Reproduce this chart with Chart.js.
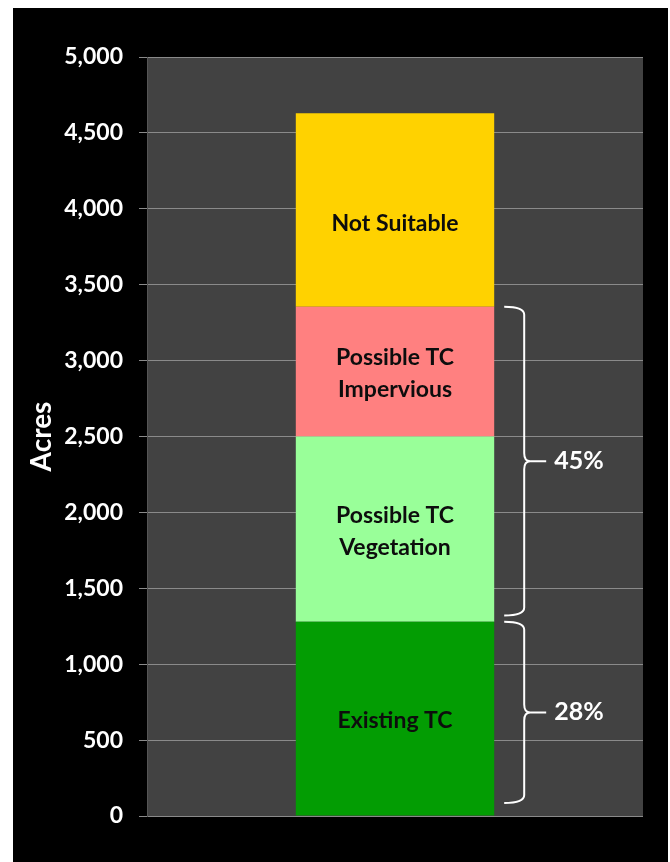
<!DOCTYPE html>
<html>
<head>
<meta charset="utf-8">
<script src="https://cdn.jsdelivr.net/npm/chart.js@4"></script>
<style>
    html, body { margin: 0; padding: 0; background: #ffffff; }
    #wrap { position: absolute; left: 13px; top: 8px; width: 655px; height: 854px; background: #000000; }
</style>
</head>
<body>
<div id="wrap"><canvas id="acresChart"></canvas></div>
<script>
const categories = [''];
const segmentNames = ['Existing TC', 'Possible TC\nVegetation', 'Possible TC\nImpervious', 'Not Suitable'];
const existingTC = [1280];
const possibleVegetation = [1220];
const possibleImpervious = [855];
const notSuitable = [1275];
const segmentColors = ['#039d03', '#99ff99', '#ff8080', '#ffd200'];
const yTicks = [0, 500, 1000, 1500, 2000, 2500, 3000, 3500, 4000, 4500, 5000];

// braces on the right side: value ranges and their labels
const braces = [
    { from: 85, to: existingTC[0], label: '28%' },
    { from: existingTC[0] + 40, to: existingTC[0] + possibleVegetation[0] + possibleImpervious[0], label: '45%' }
];

const plotBackground = {
    id: 'plotBackground',
    beforeDraw(chart) {
        const { ctx, chartArea } = chart;
        ctx.save();
        ctx.fillStyle = '#424242';
        ctx.fillRect(chartArea.left, chartArea.top, chartArea.right - chartArea.left, chartArea.bottom - chartArea.top);
        ctx.restore();
    }
};

const segmentLabels = {
    id: 'segmentLabels',
    afterDatasetsDraw(chart) {
        const ctx = chart.ctx;
        ctx.save();
        ctx.fillStyle = '#0d0d0d';
        ctx.font = 'bold 23px Lato';
        ctx.textAlign = 'center';
        ctx.textBaseline = 'middle';
        chart.data.datasets.forEach((ds, i) => {
            const bar = chart.getDatasetMeta(i).data[0];
            const lines = segmentNames[i].split('\n');
            // top label sits a bit below the segment middle in the original
            const shift = i === chart.data.datasets.length - 1 ? 14 : 2;
            const mid = (bar.y + bar.base) / 2 + shift;
            lines.forEach((line, j) => {
                ctx.fillText(line, bar.x, mid + (j - (lines.length - 1) / 2) * 32);
            });
        });
        ctx.restore();
    }
};

const braceMarks = {
    id: 'braceMarks',
    afterDatasetsDraw(chart) {
        const ctx = chart.ctx;
        const y = chart.scales.y;
        const bar = chart.getDatasetMeta(0).data[0];
        const x0 = bar.x + bar.width / 2 + 10;
        ctx.save();
        ctx.strokeStyle = '#ffffff';
        ctx.lineWidth = 2;
        ctx.fillStyle = '#ffffff';
        ctx.font = 'bold 25px Lato';
        ctx.textBaseline = 'middle';
        braces.forEach(b => {
            const yTop = y.getPixelForValue(b.to);
            const yBot = y.getPixelForValue(b.from);
            const yMid = (yTop + yBot) / 2;
            const xv = x0 + 20;
            const r = 8;
            ctx.beginPath();
            ctx.moveTo(x0, yTop);
            ctx.quadraticCurveTo(xv, yTop, xv, yTop + r);
            ctx.lineTo(xv, yMid - r);
            ctx.quadraticCurveTo(xv, yMid, xv + 6, yMid);
            ctx.quadraticCurveTo(xv, yMid, xv, yMid + r);
            ctx.lineTo(xv, yBot - r);
            ctx.quadraticCurveTo(xv, yBot, x0, yBot);
            ctx.moveTo(xv + 6, yMid);
            ctx.lineTo(xv + 22, yMid);
            ctx.stroke();
            ctx.fillText(b.label, xv + 30, yMid);
        });
        ctx.restore();
    }
};

new Chart(document.getElementById('acresChart'), {
    type: 'bar',
    data: {
        labels: categories,
        datasets: [
            { label: 'Existing TC', data: existingTC, backgroundColor: segmentColors[0] },
            { label: 'Possible TC Vegetation', data: possibleVegetation, backgroundColor: segmentColors[1] },
            { label: 'Possible TC Impervious', data: possibleImpervious, backgroundColor: segmentColors[2] },
            { label: 'Not Suitable', data: notSuitable, backgroundColor: segmentColors[3] }
        ]
    },
    options: {
        responsive: true,
        maintainAspectRatio: false,
        animation: false,
        layout: { padding: { top: 49, right: 25, bottom: 46, left: 0 } },
        datasets: { bar: { categoryPercentage: 1, barPercentage: 0.4, borderWidth: 0 } },
        plugins: { legend: { display: false }, tooltip: { enabled: false } },
        scales: {
            x: { stacked: true, display: false },
            y: {
                stacked: true,
                min: 0,
                max: 5000,
                afterFit(scale) { scale.width = 134; },
                afterBuildTicks(scale) { scale.ticks = yTicks.map(v => ({ value: v })); },
                ticks: {
                    color: '#ffffff',
                    font: { family: 'Lato', size: 23, weight: 'bold' },
                    padding: 16,
                    callback: v => v.toLocaleString('en-US')
                },
                grid: { color: '#8a8a8a', lineWidth: 1, tickLength: 8 },
                border: { color: '#555555' },
                title: {
                    display: true,
                    text: 'Acres',
                    color: '#ffffff',
                    font: { family: 'Lato', size: 28, weight: 'bold' },
                    padding: { top: 12, bottom: 0 }
                }
            }
        }
    },
    plugins: [plotBackground, segmentLabels, braceMarks]
});
</script>
</body>
</html>
